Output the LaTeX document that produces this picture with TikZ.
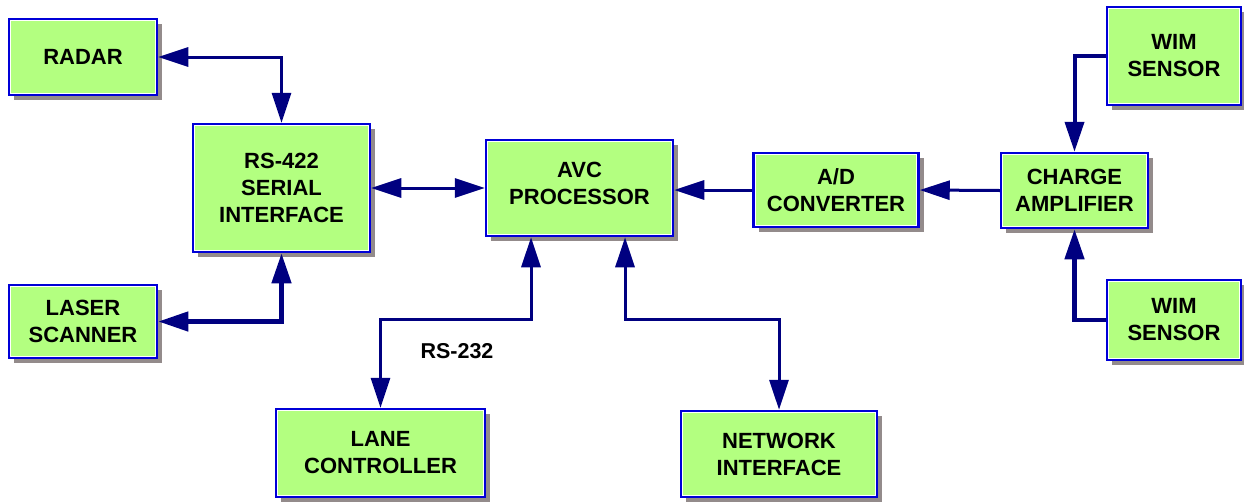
\documentclass[tikz,border=0pt]{standalone}
\usepackage{fontspec}
\setmainfont{Liberation Sans}
\usetikzlibrary{arrows.meta,shadows}
\definecolor{boxfill}{RGB}{179,255,128}
\definecolor{boxline}{RGB}{0,0,215}
\definecolor{arrcol}{RGB}{0,0,128}
\definecolor{shadowgray}{RGB}{147,139,139}
\begin{document}
\begin{tikzpicture}[x=1pt,y=-1pt,
  blk/.style={draw=boxline, line width=2.5pt, fill=boxfill, align=center,
    font=\fontsize{22}{27}\selectfont\bfseries, inner sep=0pt,
    drop shadow={shadow xshift=5pt, shadow yshift=-5pt, fill=shadowgray, opacity=1},
    path picture={\draw[white, line width=1pt]
      ([shift={(1.8pt,-1.8pt)}]path picture bounding box.north west) rectangle
      ([shift={(-1.8pt,1.8pt)}]path picture bounding box.south east);}},
  conn/.style={draw=arrcol, line width=3pt},
  >={Triangle[length=30pt 0 0,width=19pt 0 0]},
  lbl/.style={font=\fontsize{21.5}{26}\selectfont\bfseries}]
\useasboundingbox (0,0) rectangle (1244,501);
\node[blk, minimum width=148pt, minimum height=76pt] (radar) at (83,57) {RADAR};
\node[blk, minimum width=177pt, minimum height=128pt] (rs) at (281.5,188) {RS-422\\SERIAL\\INTERFACE};
\node[blk, minimum width=148pt, minimum height=73pt] (laser) at (83,321.5) {LASER\\SCANNER};
\node[blk, minimum width=187pt, minimum height=96pt] (avc) at (579.5,188) {AVC\\PROCESSOR\\[-17pt]\mbox{}};
\node[blk, minimum width=165pt, minimum height=74pt] (ad) at (836,190) {A/D\\CONVERTER};
\node[blk, minimum width=147pt, minimum height=75pt] (charge) at (1074.5,190.5) {CHARGE\\AMPLIFIER};
\node[blk, minimum width=134pt, minimum height=98pt] (wim1) at (1174,56) {WIM\\SENSOR};
\node[blk, minimum width=134pt, minimum height=80pt] (wim2) at (1174,320) {WIM\\SENSOR};
\node[blk, minimum width=209pt, minimum height=88pt] (lane) at (380.5,453) {LANE\\CONTROLLER};
\node[blk, minimum width=196pt, minimum height=86pt] (net) at (779,454) {NETWORK\\INTERFACE};
\node[lbl] (rs232) at (457,351) {RS-232};
\draw[conn,<->] (radar.east) -| (rs.north);
\draw[conn,<->,line width=4.5pt] (laser.east) -| (rs.south);
\draw[conn,<->] (rs.east) -- (avc.west);
\draw[conn,->] (ad.west) -- (ad.west -| avc.east);
\draw[conn,->] (charge.west) -- (ad.east);
\draw[conn,->,line width=4pt] (wim1.west) -| (charge.north);
\draw[conn,->,line width=4.5pt] (wim2.west) -| (charge.south);
\draw[conn,<->] ([xshift=-48.5pt]avc.south) -- ++(0,82) -| (lane.north);
\draw[conn,<->] ([xshift=45.5pt]avc.south) -- ++(0,82) -| (net.north);
\end{tikzpicture}
\end{document}
